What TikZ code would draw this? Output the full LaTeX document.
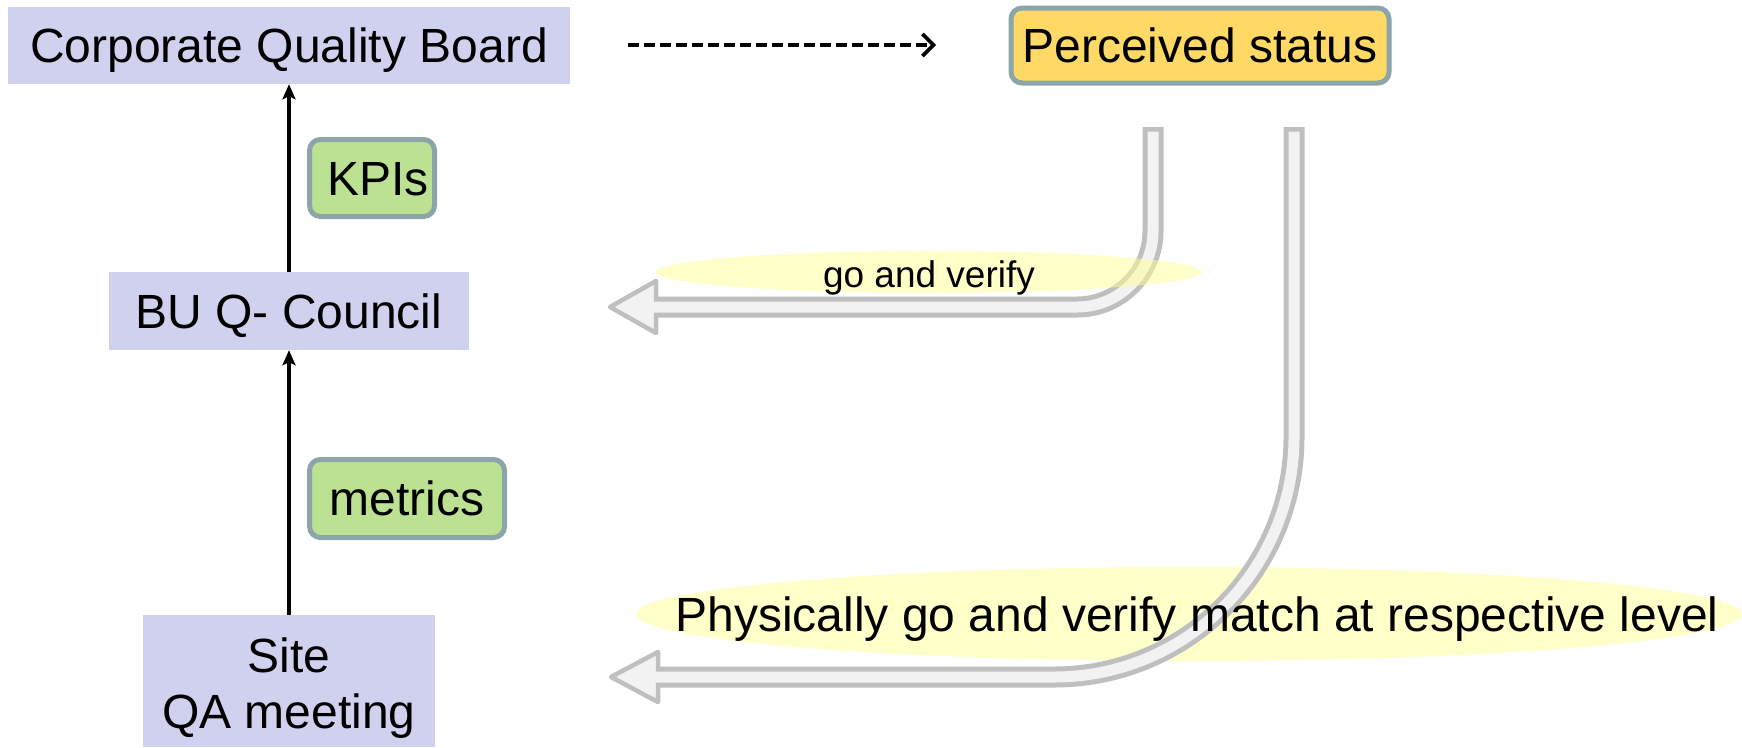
\documentclass[tikz,border=0pt]{standalone}
\usepackage{fontspec}
\setmainfont{Liberation Sans}
\usetikzlibrary{arrows.meta}

\definecolor{boxblue}{RGB}{208,209,238}
\definecolor{statusfill}{RGB}{255,217,102}
\definecolor{tagfill}{RGB}{189,225,146}
\definecolor{tagline}{RGB}{139,165,168}
\definecolor{bandfill}{RGB}{242,242,242}
\definecolor{bandline}{RGB}{191,191,191}
\definecolor{hilite}{RGB}{255,255,150}

\begin{document}
\begin{tikzpicture}[x=1pt,y=-1pt,
  every node/.style={font=\fontsize{48}{56}\selectfont, inner sep=0pt},
  oneline/.style={text height=34.5pt, text depth=0pt},
  level/.style={fill=boxblue, align=center},
  tag/.style={draw=tagline, line width=5pt, rounded corners=11pt, fill=tagfill, oneline},
  status/.style={draw=tagline, line width=5pt, rounded corners=11pt, fill=statusfill, oneline},
  up/.style={-{Stealth[length=15pt,width=13pt,inset=3pt]}, line width=3.5pt},
  bandout/.style={draw=bandline, line width=21pt, line cap=butt},
  bandin/.style={draw=bandfill, line width=11pt, line cap=butt},
  bandhead/.style={fill=bandfill, draw=bandline, line width=4.5pt, line join=round},
  halo/.style={fill=hilite, fill opacity=0.5},
]
\useasboundingbox (0,0) rectangle (1742,747);
\fill[white] (0,0) rectangle (1742,747);

% reporting chain on the left
\node[level, oneline, minimum width=562pt, minimum height=77pt] (cqb) at (289,45.5) {Corporate Quality Board};
\node[level, oneline, minimum width=360pt, minimum height=78pt] (bu) at (289,311) {BU Q- Council};
\node[level, minimum width=292pt, minimum height=132pt] (site) at (289,681) {\rule{0pt}{48pt}Site\\QA meeting};

\draw[up] (bu.north) -- (cqb.south);
\draw[up] (site.north) -- (bu.south);

\node[tag, minimum width=125pt, minimum height=77pt] (kpi) at (372,178) {\hspace*{12pt}KPIs};
\node[tag, minimum width=195pt, minimum height=78pt] (metrics) at (407,498.5) {metrics};

% perceived status at the top right
\node[status, minimum width=378pt, minimum height=75pt] (perceived) at (1200,45.5) {Perceived status};

\coordinate (dashA) at (628,45);
\coordinate (dashB) at (936,45);
\draw[line width=3.6pt, dash pattern=on 11pt off 5pt, -{Straight Barb[length=11pt,width=22pt,line width=3.6pt]}] (dashA) -- (dashB);

% short hollow arrow back to the BU level
\coordinate (s1) at (1153,127);
\coordinate (s1i) at (1153,131.5);
\coordinate (e1) at (656,307);
\coordinate (e1i) at (650,307);
\coordinate (t1) at (610,307);
\coordinate (h1a) at (656,281);
\coordinate (h1b) at (656,333);
\draw[bandout, rounded corners=76pt] (s1) |- (e1);
\filldraw[bandhead] (t1) -- (h1a) -- (h1b) -- cycle;
\draw[bandin, rounded corners=76pt] (s1i) |- (e1i);

% highlight behind the long caption, under the long arrow
\fill[halo] (1189,614) ellipse [x radius=553pt, y radius=47pt];

% long hollow arrow back to the site level
\coordinate (s2) at (1294,127);
\coordinate (s2i) at (1294,131.5);
\coordinate (e2) at (658,677);
\coordinate (e2i) at (652,677);
\coordinate (t2) at (611,677);
\coordinate (h2a) at (658,652);
\coordinate (h2b) at (658,702);
\draw[bandout, rounded corners=240pt] (s2) |- (e2);
\filldraw[bandhead] (t2) -- (h2a) -- (h2b) -- cycle;
\draw[bandin, rounded corners=240pt] (s2i) |- (e2i);

% captions
\fill[halo] (929,272) ellipse [x radius=273pt, y radius=21pt];
\node[font=\fontsize{37}{44}\selectfont, text height=27pt, text depth=0pt] (verify) at (929,274) {go and verify};

\node[oneline] (physically) at (1197,614) {Physically go and verify match at respective level};
\end{tikzpicture}
\end{document}
